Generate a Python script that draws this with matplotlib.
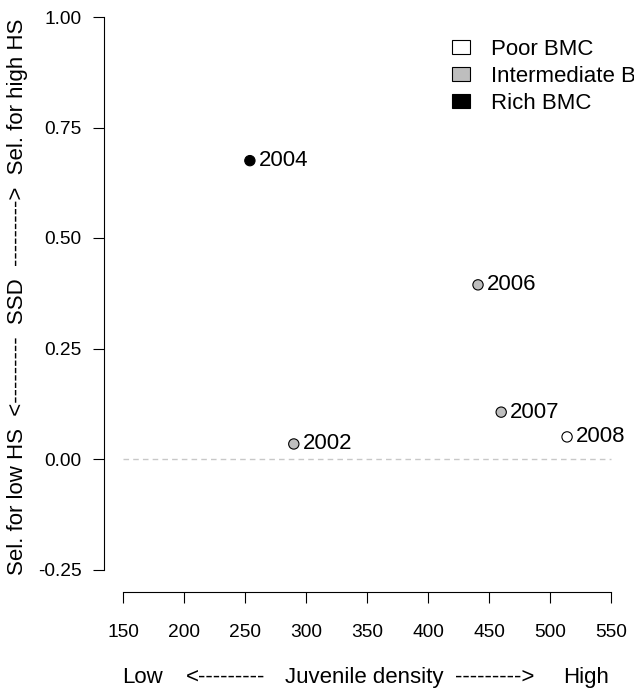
import matplotlib
matplotlib.use("Agg")
import matplotlib.pyplot as plt
from matplotlib.patches import Patch

years = ["2002", "2004", "2006", "2007", "2008"]
density = [290, 254, 441, 460, 514]
ssd = [0.034, 0.675, 0.394, 0.106, 0.050]
bmc = ["Intermediate", "Rich", "Intermediate", "Intermediate", "Poor"]

xticks = [150, 200, 250, 300, 350, 400, 450, 500, 550]
yticks = [-0.25, 0.0, 0.25, 0.50, 0.75, 1.00]
legend_labels = ["Poor BMC", "Intermediate BMC", "Rich BMC"]
bmc_colors = {"Poor": "white", "Intermediate": "#bebebe", "Rich": "black"}

plt.rcParams["font.family"] = ["Liberation Sans", "DejaVu Sans"]

W, H = 634, 688
fig = plt.figure(figsize=(W / 100, H / 100), dpi=100)

# plot region in pixels (R style, 4% padding around the data range)
left, right = 103.5, 630.5
top, bottom = -5.1, 591.6
ax = fig.add_axes([left / W, 1 - bottom / H, (right - left) / W, (bottom - top) / H])
ax.set_xlim(134, 566)
ax.set_ylim(-0.30, 1.05)

ax.hlines(0, xticks[0], xticks[-1], colors="#c8c8c8", linestyles=(0, (4, 3)), linewidth=1)

ax.scatter(density, ssd, s=55, c=[bmc_colors[b] for b in bmc],
           edgecolors="black", linewidths=0.8, zorder=3)
for x, y, yr in zip(density, ssd, years):
    ax.annotate(yr, (x, y), xytext=(6.5, 0), textcoords="offset points",
                ha="left", va="center", fontsize=16)

for side in ["top", "right"]:
    ax.spines[side].set_visible(False)
ax.spines["left"].set_bounds(yticks[0], yticks[-1])
ax.spines["bottom"].set_bounds(xticks[0], xticks[-1])
for side in ["left", "bottom"]:
    ax.spines[side].set_linewidth(0.8)
ax.set_xticks(xticks)
ax.set_yticks(yticks)
ax.set_yticklabels([f"{v:.2f}" for v in yticks])
ax.tick_params(axis="both", length=8, width=0.8, labelsize=13.8)
ax.tick_params(axis="x", pad=15)
ax.tick_params(axis="y", pad=8)

handles = [Patch(facecolor=bmc_colors[k], edgecolor="black", linewidth=0.8)
           for k in ["Poor", "Intermediate", "Rich"]]
fig.legend(handles, legend_labels, loc="upper left", bbox_to_anchor=(452 / W, 1 - 39 / H),
           frameon=False, fontsize=16, borderpad=0, borderaxespad=0,
           handlelength=0.8, handleheight=0.6, handletextpad=0.95, labelspacing=0.27)

# axis titles
base = 1 - 683 / H
fig.text(142 / W, base, "Low", ha="center", va="baseline", fontsize=16)
fig.text(226 / W, base, "<---------", ha="center", va="baseline", fontsize=16)
fig.text(364 / W, base, "Juvenile density", ha="center", va="baseline", fontsize=16)
fig.text(495 / W, base, "--------->", ha="center", va="baseline", fontsize=16)
fig.text(586 / W, base, "High", ha="center", va="baseline", fontsize=16)

fig.text(18 / W, 1 - 297 / H, "Sel. for low HS  <---------  SSD  --------->  Sel. for high HS",
         rotation=90, ha="center", va="center", fontsize=16)

fig.savefig("out.png", dpi=100)
